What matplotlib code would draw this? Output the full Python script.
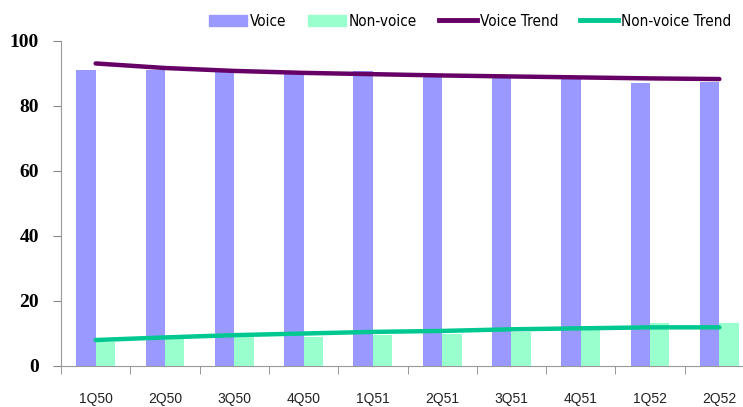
import numpy as np
import matplotlib.pyplot as plt
from matplotlib.patches import Patch
from matplotlib.lines import Line2D

quarters = ["1Q50", "2Q50", "3Q50", "4Q50", "1Q51", "2Q51", "3Q51", "4Q51", "1Q52", "2Q52"]
voice = [91.0, 91.0, 90.5, 90.8, 90.8, 88.9, 88.4, 88.1, 86.9, 87.2]
non_voice = [7.4, 8.1, 8.7, 8.7, 9.4, 9.9, 10.5, 11.0, 13.0, 13.0]
voice_trend = [93.0, 91.6, 90.7, 90.1, 89.7, 89.3, 89.0, 88.7, 88.4, 88.2]
non_voice_trend = [7.9, 8.7, 9.4, 9.9, 10.4, 10.7, 11.2, 11.5, 11.8, 11.8]

c_voice = "#9999FF"
c_nonvoice = "#99FFCC"
c_vtrend = "#660066"
c_ntrend = "#00C890"

W, H = 743, 407
fig = plt.figure(figsize=(W/100, H/100), dpi=100)
# axes runs a little past the right edge of the figure
ax = fig.add_axes([61/W, 41.3/H, 693/W, 325/H])

x = np.arange(len(quarters))
bw = 0.28
ax.bar(x - bw, voice, width=bw, align="edge", color=c_voice, zorder=2)
ax.bar(x, non_voice, width=bw, align="edge", color=c_nonvoice, zorder=2)
ax.plot(x, voice_trend, color=c_vtrend, lw=3.2, solid_capstyle="round", zorder=3)
ax.plot(x, non_voice_trend, color=c_ntrend, lw=3.2, solid_capstyle="round", zorder=3)

ax.set_xlim(-0.5, len(quarters) - 0.5)
ax.set_ylim(0, 100)
ax.set_yticks(range(0, 101, 20))
ax.set_yticklabels([str(v) for v in range(0, 101, 20)],
                   family=["Liberation Serif", "DejaVu Serif"], fontweight="bold", fontsize=14)

# category labels centred, tick marks between categories
ax.set_xticks(x)
ax.set_xticklabels(quarters, family=["Liberation Sans", "DejaVu Sans"], fontsize=10, color="#222222")
ax.set_xticks(np.arange(-0.5, len(quarters), 1.0), minor=True)
ax.tick_params(axis="x", which="major", length=0, pad=19)
ax.tick_params(axis="x", which="minor", length=6, color="#888888", direction="out")
ax.tick_params(axis="y", length=6, color="#888888", pad=10)

for s in ["top", "right"]:
    ax.spines[s].set_visible(False)
for s in ["left", "bottom"]:
    ax.spines[s].set_color("#999999")

handles = [
    Patch(color=c_voice),
    Patch(color=c_nonvoice),
    Line2D([], [], color=c_vtrend, lw=3.5),
    Line2D([], [], color=c_ntrend, lw=3.5),
]
labels = ["Voice", "Non-voice", "Voice Trend", "Non-voice Trend"]
fig.legend(handles, labels, loc="center left", bbox_to_anchor=(209/W, 1 - 21/H),
           ncol=4, frameon=False, borderpad=0, borderaxespad=0,
           handlelength=2.5, handletextpad=0.15, columnspacing=1.45,
           prop={"family": "DejaVu Sans", "stretch": "condensed", "size": 11})

fig.savefig("out.png", dpi=100)
